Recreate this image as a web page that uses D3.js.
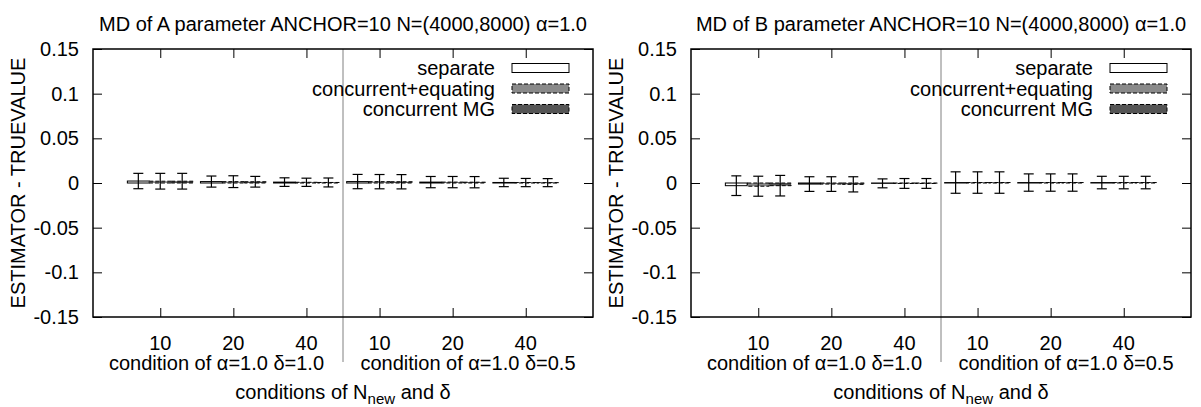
<!DOCTYPE html>
<html>
<head>
<meta charset="utf-8">
<script src="https://cdn.jsdelivr.net/npm/d3@7/dist/d3.min.js"></script>
<style>
  body { margin: 0; background: #fff; }
  svg { font-family: 'Liberation Sans', Arial, sans-serif; }
  text { fill: #000; }
</style>
</head>
<body>
<svg id="chart" width="1201" height="407"></svg>
<script>
// Data
const clusterLabels = ['10', '20', '40', '10', '20', '40'];
const groupLabels = ['condition of \u03b1=1.0 \u03b4=1.0', 'condition of \u03b1=1.0 \u03b4=0.5'];
const seriesNames = ['separate', 'concurrent+equating', 'concurrent MG'];
const yTicks = [-0.15, -0.1, -0.05, 0, 0.05, 0.1, 0.15];

// A parameter: value per cluster, one array per series
const aSeparate = [0.0022, 0.0016, 0.0010, 0.0016, 0.0010, 0.0006];
const aConcEq = [0.0020, 0.0015, 0.0008, 0.0015, 0.0010, 0.0005];
const aConcMG = [0.0020, 0.0014, 0.0006, 0.0014, 0.0009, 0.0004];
const aSeparateErr = [0.0086, 0.0062, 0.0048, 0.0080, 0.0063, 0.0047];
const aConcEqErr = [0.0088, 0.0066, 0.0046, 0.0080, 0.0063, 0.0046];
const aConcMGErr = [0.0088, 0.0060, 0.0050, 0.0080, 0.0063, 0.0045];

// B parameter
const bSeparate = [-0.0030, -0.0012, -0.0004, 0.0005, 0.0005, 0.0005];
const bConcEq = [-0.0036, -0.0012, -0.0005, 0.0005, 0.0005, 0.0005];
const bConcMG = [-0.0030, -0.0015, -0.0005, 0.0005, 0.0005, 0.0005];
const bSeparateErr = [0.0110, 0.0082, 0.0050, 0.0120, 0.0097, 0.0070];
const bConcEqErr = [0.0112, 0.0082, 0.0055, 0.0120, 0.0097, 0.0070];
const bConcMGErr = [0.0115, 0.0085, 0.0055, 0.0120, 0.0097, 0.0070];

const panels = [
  {
    title: 'MD of A parameter ANCHOR=10 N=(4000,8000) \u03b1=1.0',
    values: [aSeparate, aConcEq, aConcMG],
    errors: [aSeparateErr, aConcEqErr, aConcMGErr],
    offset: 0,
  },
  {
    title: 'MD of B parameter ANCHOR=10 N=(4000,8000) \u03b1=1.0',
    values: [bSeparate, bConcEq, bConcMG],
    errors: [bSeparateErr, bConcEqErr, bConcMGErr],
    offset: 598,
  },
];

const FILLS = ['#ffffff', '#8a8a8a', '#555555'];
const DASH = [null, '4,2', '4,2'];
const FONT = 20;
const BAR_W = 0.3;

// Frame of one panel
const LEFT = 93;
const RIGHT = 593;
const TOP = 49;
const BOTTOM = 317;
const TICK = 9;

const svg = d3.select('#chart');

function drawPanel(p) {
  const g = svg.append('g').attr('transform', `translate(${p.offset},0)`);

  const x = d3.scaleLinear([-0.92, clusterLabels.length - 0.08], [LEFT, RIGHT]);
  const y = d3.scaleLinear([-0.15, 0.15], [BOTTOM, TOP]);

  // Bars
  p.values.forEach((vals, s) => {
    g.append('g')
      .selectAll('rect')
      .data(vals)
      .join('rect')
      .attr('x', (d, i) => x(i + (s - 1) * BAR_W - BAR_W / 2))
      .attr('width', x(BAR_W) - x(0))
      .attr('y', (d) => Math.min(y(d), y(0)))
      .attr('height', (d) => Math.abs(y(d) - y(0)))
      .attr('fill', FILLS[s])
      .attr('stroke', '#000')
      .attr('stroke-width', 1)
      .attr('stroke-dasharray', DASH[s]);
  });

  // Error bars
  p.values.forEach((vals, s) => {
    const eg = g.append('g').attr('stroke', '#000').attr('stroke-width', 1.2);
    vals.forEach((v, i) => {
      const cx = x(i + (s - 1) * BAR_W);
      const e = p.errors[s][i];
      eg.append('line').attr('x1', cx).attr('x2', cx).attr('y1', y(v + e)).attr('y2', y(v - e));
      [v + e, v - e].forEach((t) => {
        eg.append('line')
          .attr('x1', cx - 5).attr('x2', cx + 5)
          .attr('y1', y(t)).attr('y2', y(t));
      });
    });
  });

  // Group divider
  g.append('line')
    .attr('x1', x(2.5)).attr('x2', x(2.5))
    .attr('y1', TOP).attr('y2', 362)
    .attr('stroke', '#808080').attr('stroke-width', 1);

  // Axes (ticks inward, mirrored)
  const yLeft = d3.axisRight(y).tickValues(yTicks).tickSize(TICK).tickFormat('');
  const yRight = d3.axisLeft(y).tickValues(yTicks).tickSize(TICK).tickFormat('');
  const xBottom = d3.axisTop(x).tickValues(d3.range(clusterLabels.length)).tickSize(TICK).tickFormat('');
  const xTop = d3.axisBottom(x).tickValues(d3.range(clusterLabels.length)).tickSize(TICK).tickFormat('');

  [
    [yLeft, `translate(${LEFT},0)`],
    [yRight, `translate(${RIGHT},0)`],
    [xBottom, `translate(0,${BOTTOM})`],
    [xTop, `translate(0,${TOP})`],
  ].forEach(([axis, tr]) => {
    const a = g.append('g').attr('transform', tr).call(axis);
    a.select('.domain').remove();
    a.selectAll('line').attr('stroke', '#000');
  });

  g.append('rect')
    .attr('x', LEFT).attr('y', TOP)
    .attr('width', RIGHT - LEFT).attr('height', BOTTOM - TOP)
    .attr('fill', 'none').attr('stroke', '#000').attr('stroke-width', 1.5);

  // Y tick labels
  g.append('g')
    .selectAll('text')
    .data(yTicks)
    .join('text')
    .attr('x', LEFT - 14)
    .attr('y', (d) => y(d) + 7)
    .attr('text-anchor', 'end')
    .attr('font-size', FONT)
    .text((d) => (d === 0 ? '0' : String(+d.toFixed(2))));

  // X tick labels
  g.append('g')
    .selectAll('text')
    .data(clusterLabels)
    .join('text')
    .attr('x', (d, i) => x(i))
    .attr('y', 350)
    .attr('text-anchor', 'middle')
    .attr('font-size', FONT)
    .text((d) => d);

  // Group labels
  const groupPos = [0.77, 4.21];
  g.append('g')
    .selectAll('text')
    .data(groupLabels)
    .join('text')
    .attr('x', (d, i) => x(groupPos[i]))
    .attr('y', 370)
    .attr('text-anchor', 'middle')
    .attr('font-size', FONT)
    .text((d) => d);

  // X axis title
  const xt = g.append('text')
    .attr('x', (LEFT + RIGHT) / 2)
    .attr('y', 399)
    .attr('text-anchor', 'middle')
    .attr('font-size', FONT);
  xt.append('tspan').text('conditions of N');
  xt.append('tspan').attr('dy', 5).attr('font-size', 15).text('new');
  xt.append('tspan').attr('dy', -5).text(' and \u03b4');

  // Y axis title
  g.append('text')
    .attr('transform', `translate(25,${(TOP + BOTTOM) / 2}) rotate(-90)`)
    .attr('text-anchor', 'middle')
    .attr('font-size', FONT)
    .text('ESTIMATOR - TRUEVALUE');

  // Title
  g.append('text')
    .attr('x', (LEFT + RIGHT) / 2)
    .attr('y', 31)
    .attr('text-anchor', 'middle')
    .attr('font-size', FONT)
    .text(p.title);

  // Legend
  const lg = g.append('g');
  seriesNames.forEach((name, s) => {
    const ly = 68 + s * 20.5;
    lg.append('text')
      .attr('x', 495)
      .attr('y', ly + 7)
      .attr('text-anchor', 'end')
      .attr('font-size', FONT)
      .text(name);
    lg.append('rect')
      .attr('x', 512).attr('y', ly - 4.5)
      .attr('width', 57).attr('height', 9)
      .attr('fill', FILLS[s])
      .attr('stroke', '#000')
      .attr('stroke-dasharray', DASH[s]);
  });
}

panels.forEach(drawPanel);
</script>
</body>
</html>
